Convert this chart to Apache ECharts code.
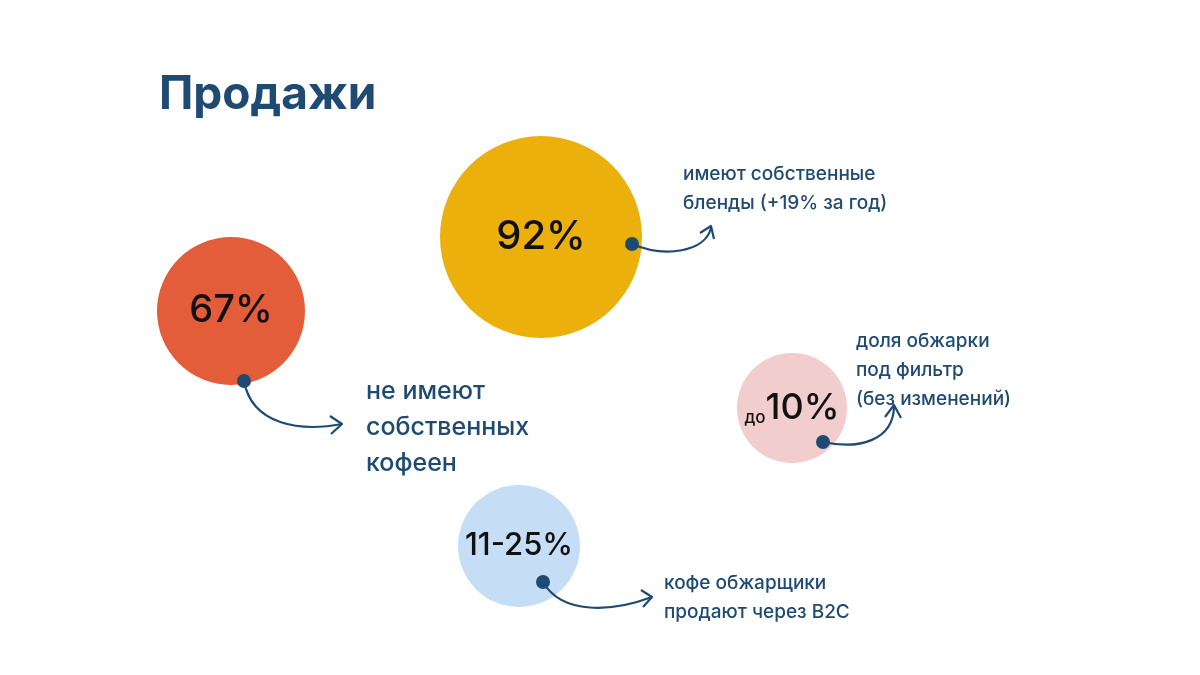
<!DOCTYPE html>
<html><head><meta charset="utf-8">
<script src="https://cdn.jsdelivr.net/npm/echarts@6/dist/echarts.min.js"></script>
<style>html,body{margin:0;padding:0;background:#fff}#c{width:1200px;height:675px}</style>
</head><body><div id="c"></div>
<script>
const labels = ['67%', '92%', 'до10%', '11-25%'];
const captions = ['не имеют\nсобственных\nкофеен', 'имеют собственные\nбленды (+19% за год)', 'доля обжарки\nпод фильтр\n(без изменений)', 'кофе обжарщики\nпродают через B2C'];
const colors = ['#E35D3B', '#EBB00C', '#F2CDCD', '#C6DDF6'];

const pos = [[231,311],[541,237],[792,408],[519,546]];
const sizes = [148, 202, 110, 122];
const labelFont = [38, 40, 36, 31];

const dark = '#1F4A72';
const font = 'Inter, "Noto Sans", sans-serif';

function arrow(p0,c1,c2,p1,head){
  return [
    {type:'bezierCurve',shape:{x1:p0[0],y1:p0[1],cpx1:c1[0],cpy1:c1[1],cpx2:c2[0],cpy2:c2[1],x2:p1[0],y2:p1[1]},style:{stroke:dark,lineWidth:2.2,fill:null},z:10},
    {type:'polyline',shape:{points:head},style:{stroke:dark,lineWidth:2.2,fill:null,lineJoin:'round'},z:10},
    {type:'circle',shape:{cx:p0[0],cy:p0[1],r:7},style:{fill:dark},z:11}
  ];
}
const capPos = [[366,373,25,36],[683,160,19,29],[856,327,19,29],[664,569,19,29]];
const graphics = [
  {type:'text',left:159,top:72,style:{text:'Продажи',font:'bold 46px '+font,fill:dark}},
  ...arrow([244,381],[252,425],[300,432],[342,424],[[330,416],[342,424],[331,434]]),
  ...arrow([632,244],[665,258],[705,252],[711,228],[[700,233],[711,226],[714,239]]),
  ...arrow([823,442],[860,450],[893,440],[894,407],[[885,417],[894,405],[901,418]]),
  ...arrow([543,582],[562,615],[612,612],[652,597],[[641,590],[652,597],[643,607]]),
  ...captions.map((t,i)=>({type:'text',left:capPos[i][0],top:capPos[i][1],style:{text:t,font:'500 '+capPos[i][2]+'px '+font,fill:dark,lineHeight:capPos[i][3]}}))
];

const chart = echarts.init(document.getElementById('c'));
chart.setOption({
  backgroundColor:'#fff',
  animation:false,
  grid:{left:0,right:0,top:0,bottom:0},
  xAxis:{type:'value',min:0,max:1200,show:false},
  yAxis:{type:'value',min:0,max:675,inverse:true,show:false},
  series:[{
    type:'scatter',
    data:labels.map((l,i)=>({
      value:pos[i], symbolSize:sizes[i], itemStyle:{color:colors[i],opacity:1},
      label:{show:true,position:'inside',
        formatter: l.startsWith('до') ? '{s|до}{b|'+l.slice(2)+'}' : '{b|'+l+'}',
        rich:{b:{fontSize:labelFont[i],fontFamily:font,fontWeight:500,color:'#111'},
              s:{fontSize:17,fontFamily:font,fontWeight:500,color:'#111',verticalAlign:'bottom',padding:[14,0,0,0]}}}
    }))
  }],
  graphic:graphics
});
</script></body></html>
